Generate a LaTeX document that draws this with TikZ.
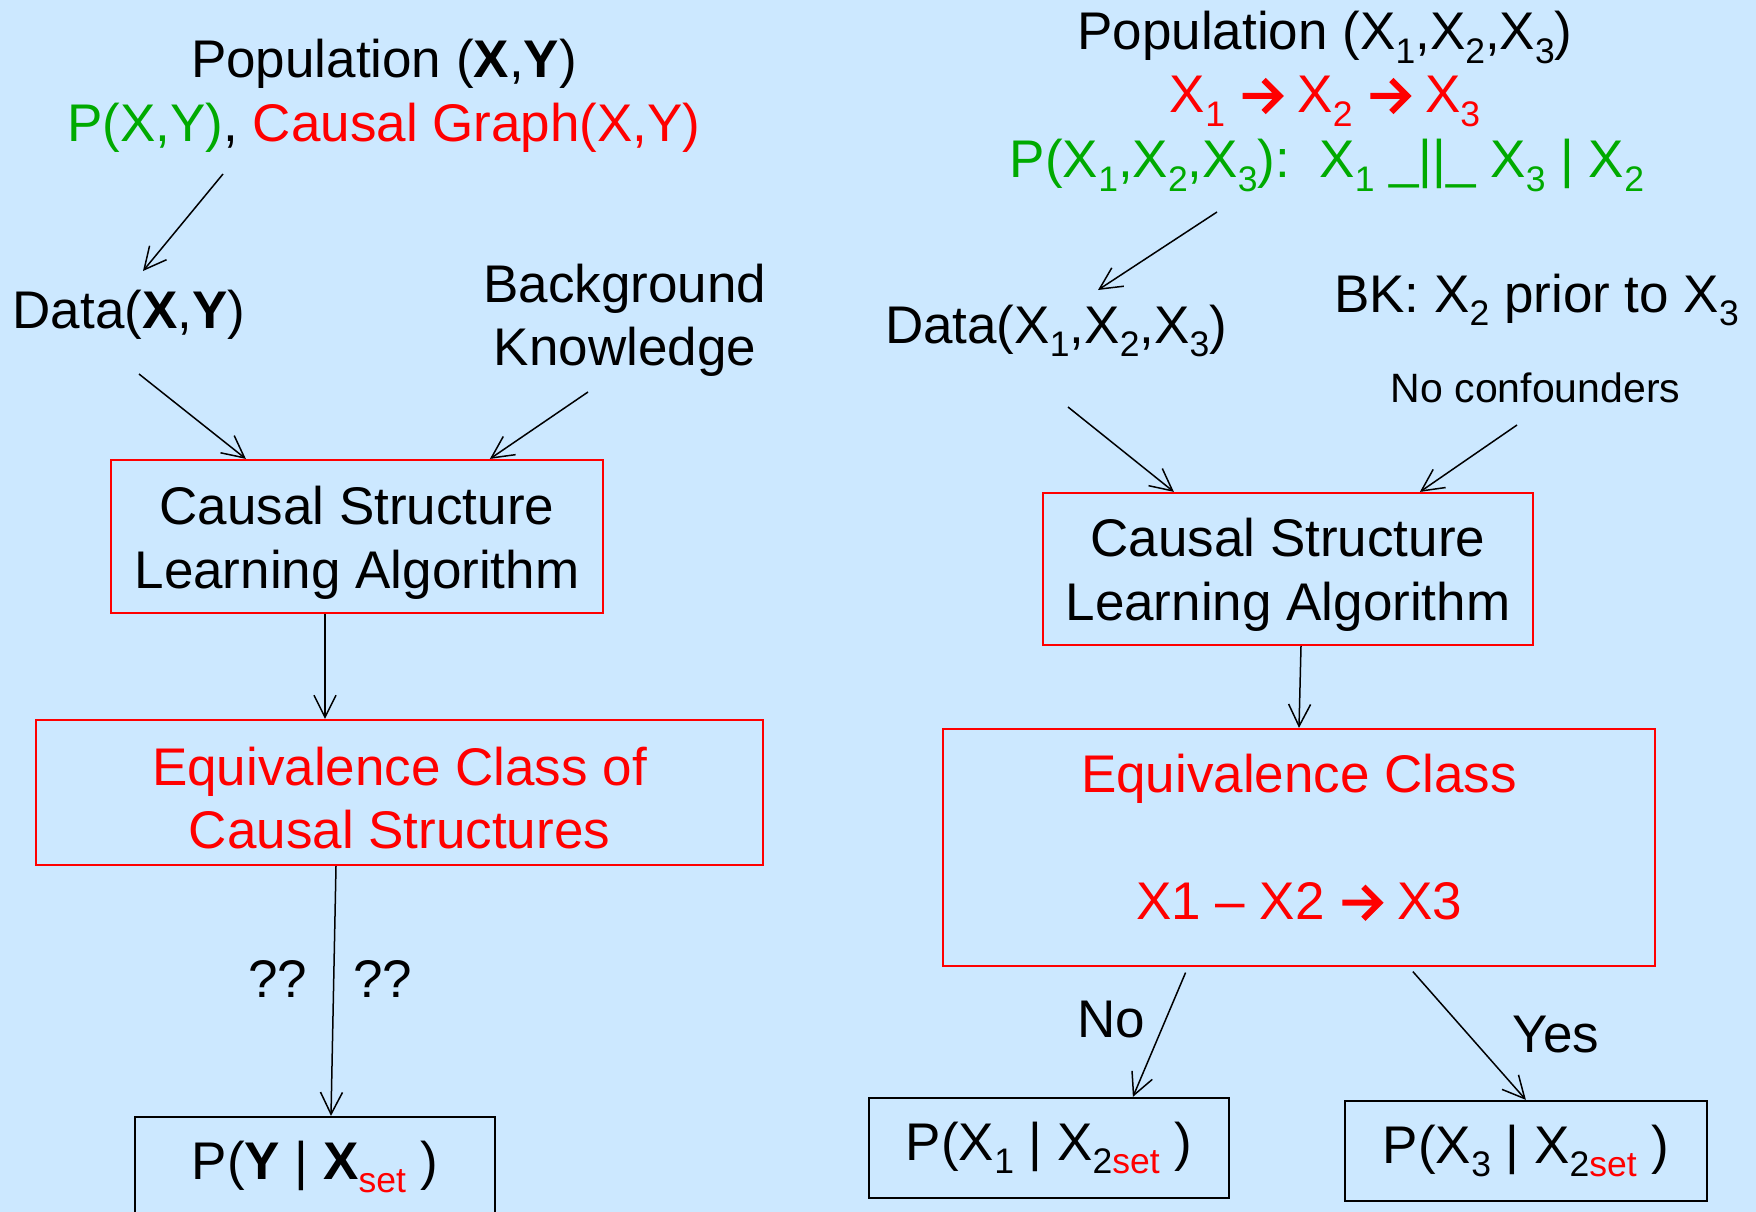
\documentclass[tikz,border=0pt]{standalone}
\usepackage{graphicx}
\usepackage{fontspec}
\setmainfont{Liberation Sans}
\usetikzlibrary{arrows.meta}

\definecolor{bgblue}{RGB}{204,232,255}
\definecolor{hired}{RGB}{255,0,0}
\definecolor{higreen}{RGB}{0,170,0}

% lowered, reduced-size subscript
\newcommand\sbs[1]{\raisebox{-0.25em}{\scalebox{0.67}{#1}}}
% bold chevron arrow, sitting on the baseline
\newcommand\rarr{\tikz[baseline=0pt]\draw[draw=hired, line width=6pt, line join=miter]
  (0pt,17pt) -- (37pt,17pt) (21pt,1pt) -- (37pt,17pt) -- (21pt,33pt);}
% invisible struts for vertical balancing inside boxes
\newcommand\topstrut[1]{\rule{0pt}{#1}}
\newcommand\botstrut[1]{\rule[-#1]{0pt}{#1}}

\begin{document}
\begin{tikzpicture}[x=1pt,y=-1pt,
  txt/.style={inner sep=0pt, anchor=base, font=\fontsize{53}{64}\selectfont},
  smalltxt/.style={inner sep=0pt, anchor=base, font=\fontsize{41}{50}\selectfont},
  redbox/.style={draw=hired, line width=2.2pt, inner sep=0pt, align=center,
                 font=\fontsize{53}{64}\selectfont},
  blackbox/.style={draw=black, line width=2.2pt, inner sep=0pt, align=center,
                   font=\fontsize{53}{64}\selectfont},
  arr/.style={line width=1.5pt, -{Straight Barb[length=22pt,width=22pt,line width=1.5pt]}}
]
\fill[bgblue] (0,0) rectangle (1756,1212);
\useasboundingbox (0,0) rectangle (1756,1212);

% ---------------- left column ----------------
\node[txt] (popL) at (384,78) {Population (\textbf{X},\textbf{Y})};
\node[txt] (distL) at (384,142) {\textcolor{higreen}{P(X,Y)}, \textcolor{hired}{Causal Graph(X,Y)}};
\node[txt] (dataL) at (129,328) {Data(\textbf{X},\textbf{Y})};
\node[txt] (bkA) at (625,302) {Background};
\node[txt] (bkB) at (625,365) {Knowledge};

\node[redbox, minimum width=492pt, minimum height=153pt] (csl) at (357,536.5)
  {\topstrut{50pt}Causal Structure\\Learning Algorithm};
\node[redbox, text=hired, minimum width=727pt, minimum height=145pt,
      font=\fontsize{53}{63}\selectfont] (eqL) at (399.5,792.5)
  {\topstrut{50pt}Equivalence Class of\\Causal Structures};
\node[blackbox, minimum width=360pt, minimum height=100pt] (pyx) at (315,1167)
  {P(\textbf{Y} | \textbf{X}\sbs{\textcolor{hired}{set}} )};

\node[txt] (qqL) at (278,997) {??};
\node[txt] (qqR) at (382.5,997) {??};

\coordinate (a1s) at (223,174);
\coordinate (a1e) at (143,271);
\coordinate (a2s) at (139,374);
\coordinate (a3s) at (588,392);
\draw[arr] (a1s) -- (a1e);
\draw[arr] (a2s) -- ([xshift=136pt]csl.north west);
\draw[arr] (a3s) -- ([xshift=380pt]csl.north west);
\draw[arr] ([xshift=-32pt]csl.south) -- ([xshift=-74.5pt]eqL.north);
\draw[arr] ([xshift=-63.5pt]eqL.south) -- ([xshift=16pt]pyx.north);

% ---------------- right column ----------------
\node[txt] (popR) at (1325,50) {Population (X\sbs{1},X\sbs{2},X\sbs{3})};
\node[txt, text=hired] (chain) at (1325,113) {X\sbs{1} \rarr{} X\sbs{2} \rarr{} X\sbs{3}};
\node[txt, text=higreen] (distR) at (1327,178)
  {P(X\sbs{1},X\sbs{2},X\sbs{3}):\ \ X\sbs{1} \_||\_ X\sbs{3} | X\sbs{2}};
\node[txt] (dataR) at (1056,343) {Data(X\sbs{1},X\sbs{2},X\sbs{3})};
\node[txt] (bkR) at (1536.5,312) {BK: X\sbs{2} prior to X\sbs{3}};
\node[smalltxt] (noconf) at (1535.5,402) {No confounders};

\node[redbox, minimum width=490pt, minimum height=152pt] (cslR) at (1288,569)
  {\topstrut{49pt}Causal Structure\\Learning Algorithm};
\node[redbox, text=hired, minimum width=712pt, minimum height=237pt] (eqR) at (1299,847.5)
  {Equivalence Class\\[63pt]X1 – X2 \rarr{} X3\botstrut{21pt}};
\node[blackbox, minimum width=360pt, minimum height=100pt] (px1) at (1049,1148)
  {P(X\sbs{1} | X\sbs{2\textcolor{hired}{set}} )};
\node[blackbox, minimum width=362pt, minimum height=100pt] (px3) at (1526,1151)
  {P(X\sbs{3} | X\sbs{2\textcolor{hired}{set}} )};

\node[txt] (noL) at (1111,1037) {No};
\node[txt] (yesL) at (1556,1052) {Yes};

\coordinate (a6s) at (1217,212);
\coordinate (a6e) at (1098,290);
\coordinate (a7s) at (1068,407);
\coordinate (a8s) at (1517,425);
\draw[arr] (a6s) -- (a6e);
\draw[arr] (a7s) -- ([xshift=132pt]cslR.north west);
\draw[arr] (a8s) -- ([xshift=378pt]cslR.north west);
\draw[arr] ([xshift=13pt]cslR.south) -- (eqR.north);
\draw[arr, shorten <=6pt] ([xshift=246pt]eqR.south west) -- ([xshift=265pt]px1.north west);
\draw[arr, shorten <=6pt] ([xshift=467pt]eqR.south west) -- ([xshift=182pt]px3.north west);
\end{tikzpicture}
\end{document}
